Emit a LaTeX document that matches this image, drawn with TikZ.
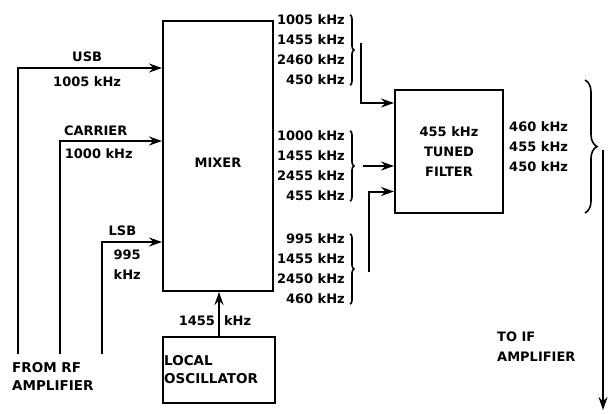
\documentclass[tikz,border=0pt]{standalone}
\usepackage{fontspec}
\setmainfont{DejaVu Sans}
\usepackage{tikz}
\usetikzlibrary{positioning,arrows.meta,decorations.pathreplacing,calc}

\begin{document}
\begin{tikzpicture}[
  x=1pt, y=-1pt,
  font=\fontsize{13}{20}\selectfont\bfseries,
  blk/.style={draw, line width=2pt, inner sep=0pt},
  lbl/.style={inner sep=0pt, align=center},
  grp/.style={inner sep=0pt, align=right},
  brc/.style={decorate, decoration={brace, amplitude=#1}, line width=1.6pt},
  brc/.default=4pt,
  >={Stealth[length=13pt, width=9pt]},
  sig/.style={->, line width=2pt}
]
  \useasboundingbox (0,0) rectangle (610,413);

  % --- blocks
  \node[blk, minimum width=110pt, minimum height=270pt] (mixer) at (218,156) {};
  \node[lbl] (mixtxt) at (218,163) {MIXER};
  \node[blk, minimum width=112pt, minimum height=66pt] (lo) at (219,370) {};
  \node[lbl, align=left, anchor=west, font=\fontsize{13.5}{18}\selectfont\bfseries]
        (lotxt) at ([xshift=2pt]lo.west) {LOCAL\\OSCILLATOR};
  \node[blk, minimum width=108pt, minimum height=123pt, align=center]
        (filter) at (449,151.5) {455 kHz\\TUNED\\FILTER};

  % --- inputs from rf amplifier
  \coordinate (usbin) at (18,354);
  \coordinate (carin) at (60,354);
  \coordinate (lsbin) at (102,354);
  \draw[sig] (usbin) |- ($(mixer.north west)+(0,48)$)
        node[pos=.74, above=5pt, lbl] (usblbl) {USB}
        node[pos=.74, below=8pt, lbl] (usbfreq) {1005 kHz};
  \draw[sig] (carin) |- ($(mixer.north west)+(0,121)$)
        node[pos=.675, above=4pt, lbl] (carlbl) {CARRIER}
        node[pos=.69, below=7pt, lbl] (carfreq) {1000 kHz};
  \draw[sig] (lsbin) |- ($(mixer.north west)+(0,222)$)
        node[pos=.67, above=5pt, lbl] (lsblbl) {LSB}
        node[pos=.71, below=7pt, lbl] (lsbfreq) {995\\kHz};
  \node[lbl, align=left, anchor=north west, font=\fontsize{13.5}{18}\selectfont\bfseries]
        (fromrf) at (12,362) {FROM RF\\AMPLIFIER};

  % --- local oscillator
  \draw[sig] (lo.north) -- (lo.north |- mixer.south)
        node[pos=.35, left=3pt, lbl] (lofreq) {1455}
        node[pos=.35, right=4pt, lbl] (lounit) {kHz};

  % --- mixer products
  \node[grp, anchor=east] (g1) at (345,50) {1005 kHz\\1455 kHz\\2460 kHz\\450 kHz};
  \node[grp, anchor=east] (g2) at (345,166) {1000 kHz\\1455 kHz\\2455 kHz\\455 kHz};
  \node[grp, anchor=east] (g3) at (345,269) {995 kHz\\1455 kHz\\2450 kHz\\460 kHz};
  \draw[brc] ([xshift=5pt]g1.north east) -- ([xshift=5pt]g1.south east);
  \draw[brc] ([xshift=5pt]g2.north east) -- ([xshift=5pt]g2.south east);
  \draw[brc] ([xshift=5pt]g3.north east) -- ([xshift=5pt]g3.south east);

  \coordinate (g1out) at ([xshift=16pt, yshift=7pt]g1.east);
  \coordinate (g2out) at ([xshift=18pt]g2.east);
  \coordinate (g3out) at ([xshift=24pt, yshift=-3pt]g3.east);
  \draw[sig] (g1out) |- ($(filter.north west)+(0,14)$);
  \draw[sig] (g2out) -- (filter.west |- g2out);
  \draw[sig] (g3out) |- ($(filter.west)+(0,40)$);

  % --- filter output
  \node[grp, align=left, anchor=west] (ifout) at (509,147) {460 kHz\\455 kHz\\450 kHz};
  \coordinate (bigtop) at (585,80);
  \coordinate (bigbot) at (585,213);
  \draw[brc=12pt] (bigtop) -- (bigbot);
  \coordinate (ifstart) at (603,150);
  \coordinate (ifend) at (603,410);
  \draw[sig] (ifstart) -- (ifend);
  \node[lbl, align=left, anchor=north west] (tolbl) at (497,332) {TO IF\\AMPLIFIER};
\end{tikzpicture}
\end{document}
